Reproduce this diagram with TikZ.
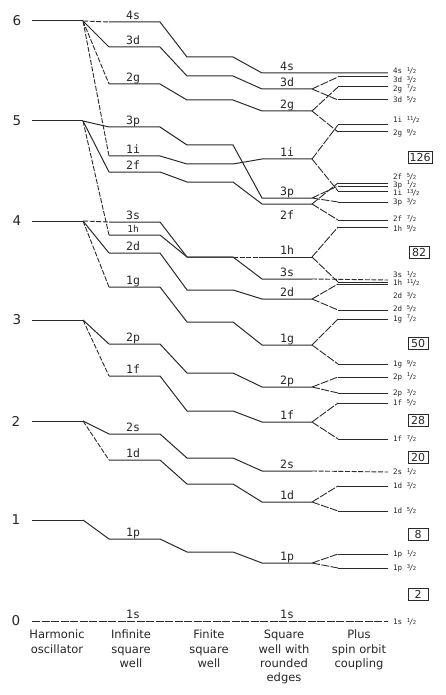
\documentclass[tikz,border=0pt]{standalone}
\usepackage{fontspec}
\setmainfont{DejaVu Sans}
\newfontfamily\lvlfont{DejaVu Sans Mono}
\definecolor{clrLine}{HTML}{2A2A2A}
\definecolor{clrText}{HTML}{262626}
\newcommand{\spfr}[2]{\raisebox{0.6ex}{\fontsize{5.5}{6}\selectfont#1}\kern-0.12em{\fontsize{7.5}{7.5}\selectfont/}\kern-0.12em{\fontsize{5.5}{6}\selectfont#2}}

\begin{document}
\begin{tikzpicture}[
    x=1pt, y=-1pt,
    level/.style={line width=1pt, clrLine},
    fan/.style={line width=0.9pt, clrLine, dash pattern=on 5pt off 1.6pt},
    split/.style={line width=0.9pt, clrLine, dash pattern=on 8pt off 1.5pt},
    lvl/.style={anchor=base, inner sep=0pt, text=clrText, font=\lvlfont\fontsize{11.5}{11.5}\selectfont},
    sol/.style={anchor=west, inner sep=0pt, text=clrText, font=\lvlfont\fontsize{7.5}{7.5}\selectfont},
    osc/.style={text=clrText, font=\fontsize{13.5}{14}\selectfont},
    magic/.style={draw=clrLine, line width=0.8pt, minimum width=20pt, minimum height=12pt, inner xsep=1.5pt, inner ysep=1pt, text=clrText, font=\fontsize{11}{11}\selectfont},
    colcap/.style={anchor=north, align=center, inner sep=0pt, text=clrText, font=\fontsize{11.5}{14.3}\selectfont},
]
\useasboundingbox (0,0) rectangle (445,695);

% oscillator shells
\node[osc] (n6) at (17,21) {6};
\node[osc] (n5) at (17,121) {5};
\node[osc] (n4) at (17,221) {4};
\node[osc] (n3) at (17,320) {3};
\node[osc] (n2) at (16,421) {2};
\node[osc] (n1) at (16,520) {1};
\node[osc] (n0) at (16,621) {0};

\coordinate (ho6) at (83,21);
\coordinate (ho5) at (83,121);
\coordinate (ho4) at (83,221);
\coordinate (ho3) at (83,320);
\coordinate (ho2) at (83,421);
\coordinate (ho1) at (83,520);
\draw[level] (32,21) -- (ho6);
\draw[level] (32,121) -- (ho5);
\draw[level] (32,221) -- (ho4);
\draw[level] (32,320) -- (ho3);
\draw[level] (32,421) -- (ho2);
\draw[level] (32,520) -- (ho1);
\draw[split] (32,621) -- (388,621);

% fan out into the square wells
\draw[fan] (ho6) -- (109,22) (ho6) -- (109,84) (ho6) -- (109,156);
\draw[level] (ho6) -- (109,47);
\draw[level] (ho5) -- (109,127) (ho5) -- (109,172);
\draw[fan] (ho5) -- (109,235);
\draw[fan] (ho4) -- (109,222) (ho4) -- (109,287);
\draw[level] (ho4) -- (109,253);
\draw[level] (ho3) -- (109,344);
\draw[fan] (ho3) -- (109,376);
\draw[level] (ho2) -- (109,434);
\draw[fan] (ho2) -- (109,460);
\draw[level] (ho1) -- (109,539);

% infinite -> finite -> rounded edges
\draw[level] (109,22) -- (160,22) -- (187,57) -- (233,57) -- (262,73) -- (388,73);
\draw[level] (109,47) -- (160,47) -- (187,76) -- (233,76) -- (262,89) -- (312,89) coordinate (re3d);
\draw[level] (109,84) -- (160,84) -- (187,100) -- (233,100) -- (262,111) -- (312,111) coordinate (re2g);
\draw[level] (109,156) -- (160,156) -- (187,164) -- (233,164) -- (262,159) -- (312,159) coordinate (re1i);
\draw[level] (109,127) -- (160,127) -- (187,145) -- (233,145) -- (262,198) -- (312,198) coordinate (re3p);
\draw[level] (109,172) -- (160,172) -- (187,182) -- (233,182) -- (262,204) -- (312,204) coordinate (re2f);
\draw[level] (109,235) -- (160,235) -- (187,257) -- (233,257);
\draw[fan] (233,257) -- (262,257);
\draw[level] (262,257) -- (312,257) coordinate (re1h);
\draw[level] (109,222) -- (160,222) -- (187,257) -- (233,257) -- (262,279) -- (312,279) coordinate (re3s);
\draw[fan] (re3s) -- (388,280);
\draw[level] (109,253) -- (160,253) -- (187,290) -- (233,290) -- (262,299) -- (312,299) coordinate (re2d);
\draw[level] (109,287) -- (160,287) -- (187,322) -- (233,322) -- (262,345) -- (312,345) coordinate (re1g);
\draw[level] (109,344) -- (160,344) -- (187,373) -- (233,373) -- (262,387) -- (312,387) coordinate (re2p);
\draw[level] (109,376) -- (160,376) -- (187,411) -- (233,411) -- (262,422) -- (312,422) coordinate (re1f);
\draw[level] (109,434) -- (160,434) -- (187,458) -- (233,458) -- (262,471) -- (312,471) coordinate (re2s);
\draw[fan] (re2s) -- (388,472);
\draw[level] (109,460) -- (160,460) -- (187,484) -- (233,484) -- (262,502) -- (312,502) coordinate (re1d);
\draw[level] (109,539) -- (160,539) -- (187,552) -- (233,552) -- (262,563) -- (312,563) coordinate (re1p);

% spin orbit splitting
\draw[split] (re3d) -- (338,77) (re3d) -- (338,100);
\draw[level] (338,77) -- (388,77) (338,100) -- (388,100);
\draw[split] (re2g) -- (338,87) (re2g) -- (338,132);
\draw[level] (338,87) -- (388,87) (338,132) -- (388,132);
\draw[split] (re1i) -- (338,125) (re1i) -- (338,191);
\draw[level] (338,125) -- (388,125) (338,191) -- (388,191);
\draw[split] (re2f) -- (338,183) (re2f) -- (338,220);
\draw[level] (338,183) -- (388,183) (338,220) -- (388,220);
\draw[split] (re3p) -- (338,186) (re3p) -- (338,202);
\draw[level] (338,186) -- (388,186) (338,202) -- (388,202);
\draw[split] (re1h) -- (338,227) (re1h) -- (338,282);
\draw[level] (338,227) -- (388,227) (338,282) -- (388,282);
\draw[split] (re2d) -- (338,284) (re2d) -- (338,310);
\draw[level] (338,284) -- (388,284) (338,310) -- (388,310);
\draw[split] (re1g) -- (338,319) (re1g) -- (338,364);
\draw[level] (338,319) -- (388,319) (338,364) -- (388,364);
\draw[split] (re2p) -- (338,377) (re2p) -- (338,393);
\draw[level] (338,377) -- (388,377) (338,393) -- (388,393);
\draw[split] (re1f) -- (338,403) (re1f) -- (338,439);
\draw[level] (338,403) -- (388,403) (338,439) -- (388,439);
\draw[split] (re1d) -- (338,486) (re1d) -- (338,511);
\draw[level] (338,486) -- (388,486) (338,511) -- (388,511);
\draw[split] (re1p) -- (338,554) (re1p) -- (338,568);
\draw[level] (338,554) -- (388,554) (338,568) -- (388,568);

% level names, infinite well
\node[lvl] (iw4s) at (133,19.5) {4s};
\node[lvl] (iw3d) at (133,44.5) {3d};
\node[lvl] (iw2g) at (133,81.5) {2g};
\node[lvl] (iw3p) at (133,124.5) {3p};
\node[lvl] (iw1i) at (133,153.5) {1i};
\node[lvl] (iw2f) at (133,169.5) {2f};
\node[lvl] (iw3s) at (133,219.5) {3s};
\node[lvl, font=\lvlfont\fontsize{9.5}{9.5}\selectfont] (iw1h) at (133,232.5) {1h};
\node[lvl] (iw2d) at (133,250.5) {2d};
\node[lvl] (iw1g) at (133,284.5) {1g};
\node[lvl] (iw2p) at (133,341.5) {2p};
\node[lvl] (iw1f) at (133,373.5) {1f};
\node[lvl] (iw2s) at (133,431.5) {2s};
\node[lvl] (iw1d) at (133,457.5) {1d};
\node[lvl] (iw1p) at (133,536.5) {1p};
\node[lvl] (iw1s) at (133,618.5) {1s};

% level names, rounded edges
\node[lvl] (rn4s) at (287,70.5) {4s};
\node[lvl] (rn3d) at (287,86.5) {3d};
\node[lvl] (rn2g) at (287,108.5) {2g};
\node[lvl] (rn1i) at (287,156.5) {1i};
\node[lvl] (rn3p) at (287,195.5) {3p};
\node[lvl] (rn2f) at (287,219) {2f};
\node[lvl] (rn1h) at (287,254.5) {1h};
\node[lvl] (rn3s) at (287,276.5) {3s};
\node[lvl] (rn2d) at (287,296.5) {2d};
\node[lvl] (rn1g) at (287,342.5) {1g};
\node[lvl] (rn2p) at (287,384.5) {2p};
\node[lvl] (rn1f) at (287,419.5) {1f};
\node[lvl] (rn2s) at (287,468.5) {2s};
\node[lvl] (rn1d) at (287,499.5) {1d};
\node[lvl] (rn1p) at (287,560.5) {1p};
\node[lvl] (rn1s) at (287,618.5) {1s};

% split levels
\node[sol] (so4s) at (393,71) {4s \spfr{1}{2}};
\node[sol] (so3da) at (393,80) {3d \spfr{3}{2}};
\node[sol] (so2ga) at (393,89) {2g \spfr{7}{2}};
\node[sol] (so3db) at (393,100) {3d \spfr{5}{2}};
\node[sol] (so1ia) at (393,120) {1i \spfr{11}{2}};
\node[sol] (so2gb) at (393,133) {2g \spfr{9}{2}};
\node[sol] (so2fa) at (393,177) {2f \spfr{5}{2}};
\node[sol] (so3pa) at (393,185) {3p \spfr{1}{2}};
\node[sol] (so1ib) at (393,193) {1i \spfr{13}{2}};
\node[sol] (so3pb) at (393,202) {3p \spfr{3}{2}};
\node[sol] (so2fb) at (393,219) {2f \spfr{7}{2}};
\node[sol] (so1ha) at (393,229) {1h \spfr{9}{2}};
\node[sol] (so3s) at (393,275) {3s \spfr{1}{2}};
\node[sol] (so1hb) at (393,283) {1h \spfr{11}{2}};
\node[sol] (so2da) at (393,296) {2d \spfr{3}{2}};
\node[sol] (so2db) at (393,309) {2d \spfr{5}{2}};
\node[sol] (so1ga) at (393,319) {1g \spfr{7}{2}};
\node[sol] (so1gb) at (393,364) {1g \spfr{9}{2}};
\node[sol] (so2pa) at (393,377) {2p \spfr{1}{2}};
\node[sol] (so2pb) at (393,393) {2p \spfr{3}{2}};
\node[sol] (so1fa) at (393,403) {1f \spfr{5}{2}};
\node[sol] (so1fb) at (393,439) {1f \spfr{7}{2}};
\node[sol] (so2s) at (393,472) {2s \spfr{1}{2}};
\node[sol] (so1da) at (393,486) {1d \spfr{3}{2}};
\node[sol] (so1db) at (393,511) {1d \spfr{5}{2}};
\node[sol] (so1pa) at (393,554) {1p \spfr{1}{2}};
\node[sol] (so1pb) at (393,568) {1p \spfr{3}{2}};
\node[sol] (so1s) at (393,622) {1s \spfr{1}{2}};

% magic numbers
\node[magic] (m126) at (420,157) {126};
\node[magic] (m82) at (419,252) {82};
\node[magic] (m50) at (418,343) {50};
\node[magic] (m28) at (418,420) {28};
\node[magic] (m20) at (418,457) {20};
\node[magic] (m8) at (418,534) {8};
\node[magic] (m2) at (418,594) {2};

% column captions
\node[colcap] (capHO) at (57,630) {Harmonic\\oscillator};
\node[colcap] (capIW) at (131,630) {Infinite\\square\\well};
\node[colcap] (capFW) at (209,630) {Finite\\square\\well};
\node[colcap] (capRE) at (284,630) {Square\\well with\\rounded\\edges};
\node[colcap] (capSO) at (359,630) {Plus\\spin orbit\\coupling};

\end{tikzpicture}
\end{document}
